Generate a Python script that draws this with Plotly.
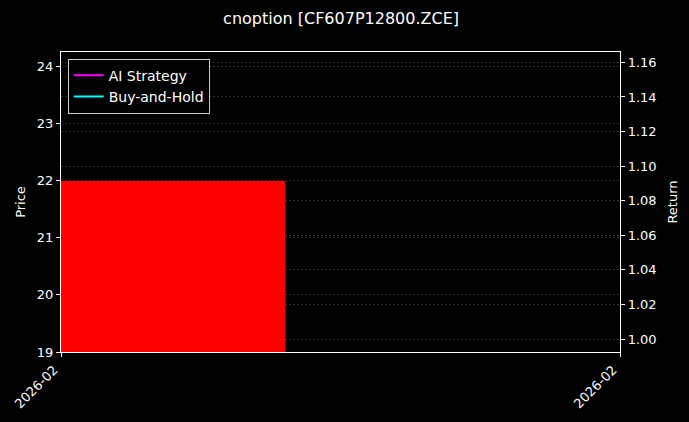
import pandas as pd
import plotly.graph_objects as go

# single trading day shown in the chart
dates = ["2026-02-13"]
close_prices = [22.0]
ai_return = [1.0]
bh_return = [1.0]

d0 = pd.Timestamp(dates[0])
x_lo = d0 - pd.Timedelta(hours=0.4 * 24)
x_hi = d0 + pd.Timedelta(hours=1.6 * 24)

fig = go.Figure()
fig.add_bar(
    x=dates, y=close_prices,
    width=0.8 * 86400000,
    marker=dict(color='#ff0000', line=dict(width=0)),
    showlegend=False,
    yaxis='y',
)
fig.add_scatter(
    x=dates, y=ai_return, mode='lines', name='AI Strategy',
    line=dict(color='#ff00ff', width=2), yaxis='y2',
)
fig.add_scatter(
    x=dates, y=bh_return, mode='lines', name='Buy-and-Hold',
    line=dict(color='#00ffff', width=2), yaxis='y2',
)

grid = dict(showgrid=True, gridcolor='rgba(150,150,150,0.3)', gridwidth=0.7, griddash='2px,2px')
fig.update_layout(
    width=689,
    height=422,
    paper_bgcolor='black',
    plot_bgcolor='black',
    font=dict(family='DejaVu Sans', color='white', size=13),
    margin=dict(l=61, r=69, t=52, b=70),
    title=dict(text='cnoption [CF607P12800.ZCE]', x=0.495, xanchor='center',
               y=0.957, yanchor='middle', font=dict(size=16, color='white')),
    xaxis=dict(
        type='date', range=[x_lo, x_hi],
        tickvals=[x_lo, x_hi], ticktext=['2026-02', '2026-02'],
        tickangle=-45, ticks='outside', ticklen=4, tickcolor='white',
        ticklabelshift=-7,
        showline=True, linecolor='white', linewidth=1.2, mirror=True,
        showgrid=False, zeroline=False, automargin=False,
    ),
    yaxis=dict(
        title=dict(text='Price', standoff=8, font=dict(size=13)), range=[19, 24.25], dtick=1,
        ticks='outside', ticklen=4, tickcolor='white',
        showline=True, linecolor='white', linewidth=1.2, mirror=True,
        zeroline=False, automargin=False, **grid,
    ),
    yaxis2=dict(
        title=dict(text='Return', standoff=12, font=dict(size=13)), range=[0.9925, 1.166], dtick=0.02,
        tickformat='.2f', overlaying='y', side='right',
        ticks='outside', ticklen=4, tickcolor='white',
        showline=True, linecolor='white', linewidth=1.2,
        zeroline=False, automargin=False, **grid,
    ),
    legend=dict(
        x=0.012, y=0.978, xanchor='left', yanchor='top',
        bgcolor='black', bordercolor='rgba(255,255,255,0.8)', borderwidth=1,
        font=dict(size=14, color='white'), tracegroupgap=0,
    ),
    bargap=0,
)

# page body has a default 8px margin; drop it so the figure sits at the corner
fig.write_html("out.html", config={'displayModeBar': False},
               post_script="document.body.style.margin='0';document.body.style.background='black';")
